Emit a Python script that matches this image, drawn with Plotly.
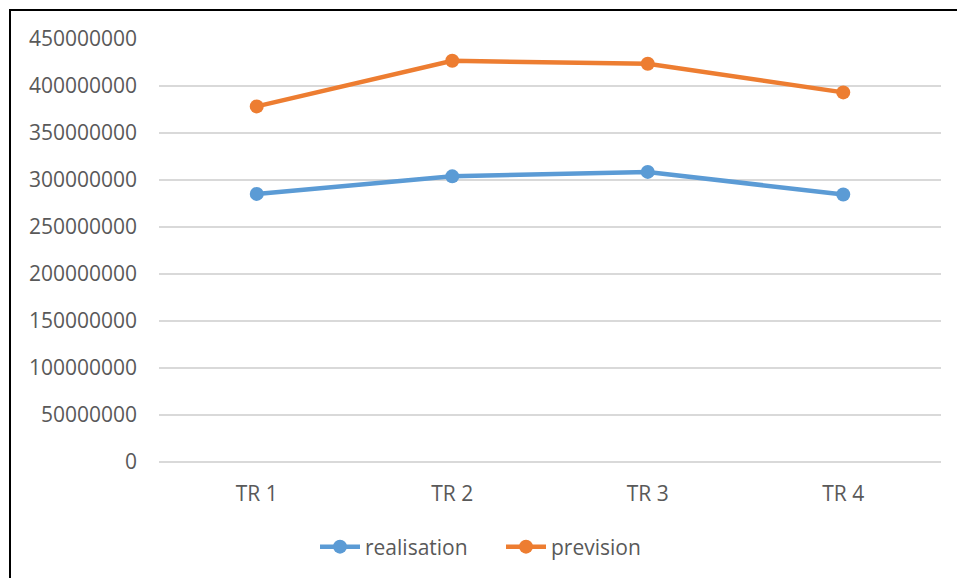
import plotly.graph_objects as go

# Quarterly amounts: actual vs forecast
quarters = ["TR 1", "TR 2", "TR 3", "TR 4"]
realisation = [285200000, 303900000, 308600000, 284500000]
prevision = [378300000, 426800000, 423700000, 393200000]
y_ticks = [0, 50000000, 100000000, 150000000, 200000000,
           250000000, 300000000, 350000000, 400000000, 450000000]

BLUE = "#5B9BD5"
ORANGE = "#ED7D31"
TEXT = "#595959"
GRID = "#D9D9D9"
FONT = "Open Sans, Liberation Sans, sans-serif"
FS = 21

fig = go.Figure()
fig.add_trace(go.Scatter(
    x=quarters, y=realisation, name="realisation", mode="lines+markers",
    line=dict(color=BLUE, width=4.5), marker=dict(color=BLUE, size=14),
))
fig.add_trace(go.Scatter(
    x=quarters, y=prevision, name="prevision", mode="lines+markers",
    line=dict(color=ORANGE, width=4.5), marker=dict(color=ORANGE, size=14),
))

W, H = 957, 578
L, R, T, B = 159, 16, 39, 115
pw, ph = W - L - R, H - T - B

def px_x(p):
    return (p - L) / pw

def px_y(p):
    return (H - B - p) / ph

fig.update_layout(
    width=W, height=H,
    margin=dict(l=L, r=R, t=T, b=B),
    paper_bgcolor="white", plot_bgcolor="white",
    font=dict(family=FONT, size=FS, color=TEXT),
    showlegend=True,
    legend=dict(
        orientation="h", x=px_x(315), xanchor="left",
        y=px_y(547), yanchor="middle",
        font=dict(family=FONT, size=FS, color=TEXT),
        itemwidth=40, entrywidth=131,
    ),
    xaxis=dict(
        type="category", range=[-0.5, len(quarters) - 0.5],
        showgrid=False, showline=False, zeroline=False,
        ticks="", tickfont=dict(size=FS, color=TEXT),
        ticklabelstandoff=17, fixedrange=True,
    ),
    yaxis=dict(
        range=[0, 450000000], tickmode="array", tickvals=y_ticks,
        ticktext=[str(v) for v in y_ticks],
        showgrid=True, gridcolor=GRID, gridwidth=1.5,
        zeroline=True, zerolinecolor=GRID, zerolinewidth=1.5,
        showline=False, ticks="", tickfont=dict(size=FS, color=TEXT),
        ticklabelstandoff=21, fixedrange=True,
    ),
    shapes=[dict(
        type="rect", xref="paper", yref="paper",
        x0=px_x(10), x1=px_x(960), y0=px_y(10), y1=px_y(581),
        line=dict(color="black", width=2), fillcolor="rgba(0,0,0,0)",
        layer="above",
    )],
)

fig.write_html("out.html")
